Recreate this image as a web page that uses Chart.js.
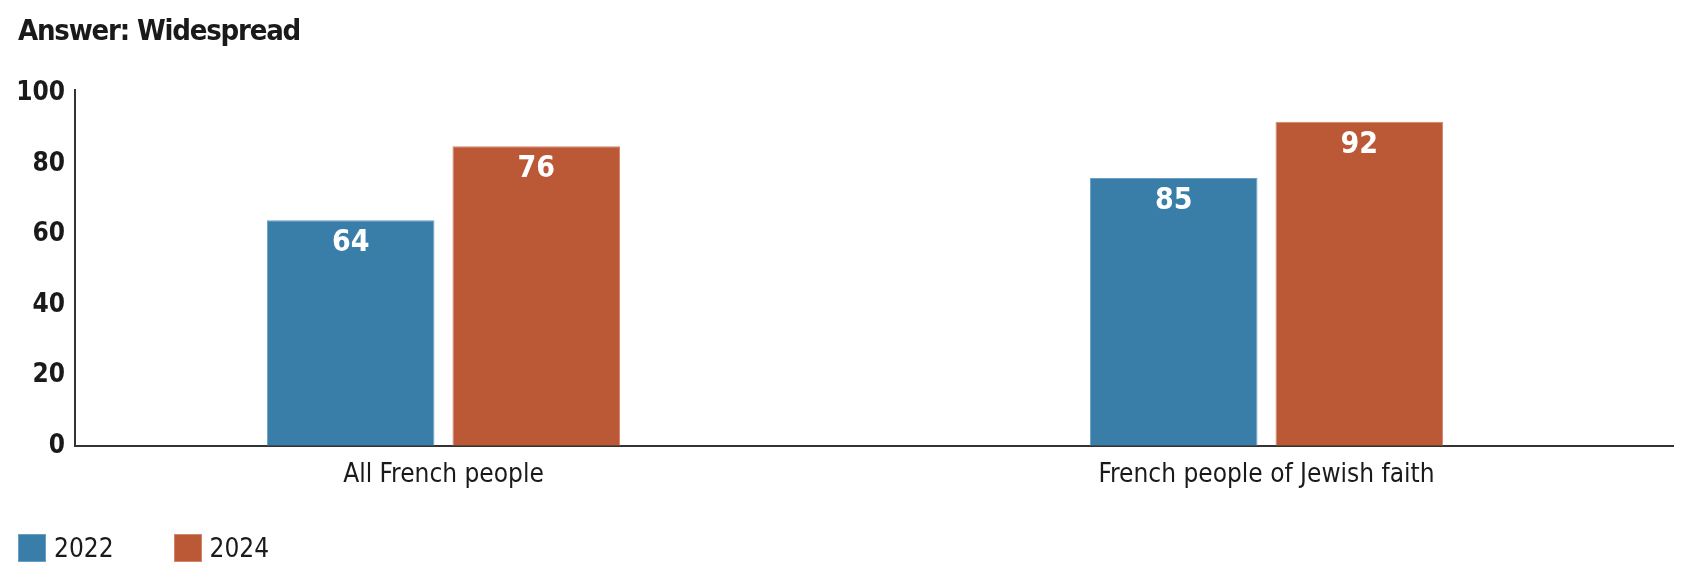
<!DOCTYPE html>
<html lang="en">
<head>
  <meta charset="UTF-8">
  <title>Answer: Widespread</title>
  <script src="https://cdn.jsdelivr.net/npm/chart.js"></script>
  <style>
    body { margin: 0; background: #fff; }
    .quadro { position: relative; width: 1694px; height: 582px; }
    .titulo {
      position: absolute; left: 18px; top: 13px;
      font: bold 29px "DejaVu Sans Condensed", sans-serif;
      color: #1a1a1a; letter-spacing: -1.2px;
    }
    .legenda {
      position: absolute; left: 18px; top: 533px;
      font: 26px "DejaVu Sans Condensed", sans-serif; color: #1a1a1a;
      display: flex;
    }
    .legenda span { display: flex; align-items: center; height: 29px; }
    .legenda i { display: inline-block; width: 28px; height: 28px; margin-right: 8px; }
    .legenda span + span { margin-left: 60px; }
  </style>
</head>
<body>
  <div class="quadro">
    <canvas id="grafico"></canvas>
    <div class="titulo">Answer: Widespread</div>
    <div class="legenda" id="legenda"></div>
  </div>

<script>
  // dados
  const categorias = ['All French people', 'French people of Jewish faith'];
  const anos = ['2022', '2024'];
  // altura das barras (como desenhadas)
  const valores2022 = [64, 76];
  const valores2024 = [85, 92];
  // numeros escritos nas barras
  const rotulos2022 = ['64', '85'];
  const rotulos2024 = ['76', '92'];
  const ticksY = [0, 20, 40, 60, 80, 100];
  const cores = ['#387ea9', '#bb5836'];
  const bordas = ['#6a9fc3', '#d2866a'];

  const fonte = '"DejaVu Sans Condensed", sans-serif';

  // legenda em html
  legenda.innerHTML = anos.map(function (a, i) {
    return `<span><i style="background:${cores[i]};border:1px solid ${bordas[i]};box-sizing:border-box"></i>${a}</span>`;
  }).join('');

  // escreve o numero dentro do topo de cada barra
  const rotulosBarras = {
    id: 'rotulosBarras',
    afterDatasetsDraw(chart) {
      const ctx = chart.ctx;
      ctx.save();
      ctx.font = 'bold 30px ' + fonte;
      ctx.fillStyle = '#ffffff';
      ctx.textAlign = 'center';
      ctx.textBaseline = 'middle';
      chart.data.datasets.forEach(function (ds, i) {
        chart.getDatasetMeta(i).data.forEach(function (barra, j) {
          ctx.fillText(ds.rotulos[j], barra.x, barra.y + 23);
        });
      });
      ctx.restore();
    }
  };

  new Chart(document.getElementById('grafico'), {
    type: 'bar',
    data: {
      datasets: [{
        label: anos[0],
        data: valores2022.map(function (v, i) { return { x: i, y: v }; }),
        rotulos: rotulos2022,
        backgroundColor: cores[0],
        borderColor: bordas[0],
        borderWidth: 1
      }, {
        label: anos[1],
        data: valores2024.map(function (v, i) { return { x: i, y: v }; }),
        rotulos: rotulos2024,
        backgroundColor: cores[1],
        borderColor: bordas[1],
        borderWidth: 1
      }]
    },
    plugins: [rotulosBarras],
    options: {
      responsive: true,
      maintainAspectRatio: false,
      animation: false,
      categoryPercentage: 0.451,
      barPercentage: 0.903,
      layout: { padding: { left: 8, right: 21, top: 90, bottom: 77 } },
      plugins: {
        tooltip: { enabled: false },
        legend: { display: false }
      },
      scales: {
        x: {
          type: 'linear',
          offset: false,
          min: -0.4477,
          max: 1.4939,
          grid: { display: false, offset: false, drawTicks: false },
          border: { display: true, color: '#333', width: 2 },
          ticks: {
            stepSize: 1,
            includeBounds: false,
            padding: 14,
            color: '#1a1a1a',
            font: { family: fonte, size: 26 },
            callback: function (v) { return categorias[v] || ''; }
          }
        },
        y: {
          min: 0,
          max: 101,
          afterFit: function (eixo) { eixo.width = 67; },
          afterBuildTicks: function (eixo) {
            eixo.ticks = ticksY.map(function (v) { return { value: v }; });
          },
          grid: { display: false, drawTicks: false },
          border: { display: true, color: '#333', width: 2 },
          ticks: {
            padding: 10,
            color: '#1a1a1a',
            font: { family: fonte, size: 26, weight: 'bold' }
          }
        }
      }
    }
  });
</script>
</body>
</html>
